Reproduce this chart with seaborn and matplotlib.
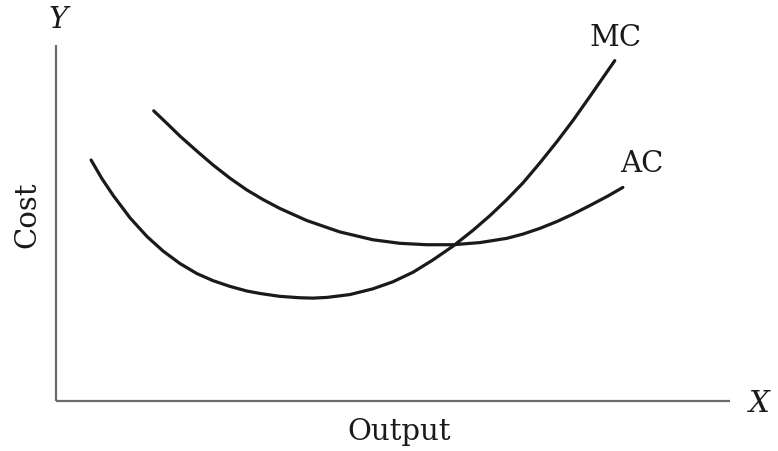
import matplotlib
matplotlib.use("Agg")
import matplotlib.pyplot as plt
import seaborn as sns
import pandas as pd

# Marginal cost curve (output, cost)
mc_output = [0.52, 0.68, 0.85, 1.10, 1.35, 1.59, 1.84, 2.09, 2.33, 2.58, 2.83, 3.03, 3.32, 3.62,
             3.81, 4.02, 4.36, 4.70, 5.00, 5.30, 5.59, 5.89, 6.19, 6.44, 6.69, 6.93, 7.18, 7.43,
             7.67, 7.92, 8.29]
mc_cost   = [6.77, 6.25, 5.77, 5.14, 4.62, 4.21, 3.86, 3.58, 3.38, 3.22, 3.09, 3.02, 2.94, 2.90,
             2.89, 2.91, 2.99, 3.15, 3.35, 3.62, 3.96, 4.35, 4.80, 5.21, 5.66, 6.13, 6.69, 7.28,
             7.88, 8.55, 9.56]

# Average cost curve (output, cost)
ac_output = [1.45, 1.65, 1.84, 2.09, 2.33, 2.58, 2.83, 3.07, 3.32, 3.72, 4.21, 4.70, 5.10, 5.50,
             5.89, 6.29, 6.69, 6.93, 7.18, 7.43, 7.67, 7.92, 8.19, 8.41]
ac_cost   = [8.15, 7.79, 7.44, 7.02, 6.63, 6.26, 5.93, 5.66, 5.41, 5.07, 4.75, 4.53, 4.43, 4.39,
             4.39, 4.45, 4.57, 4.69, 4.85, 5.04, 5.25, 5.49, 5.76, 6.00]

curve_labels = ["MC", "AC"]
x_label = "Output"
y_label = "Cost"

sns.set_theme(style="white")
plt.rcParams["font.family"] = ["DejaVu Serif", "Liberation Serif"]

fig = plt.figure(figsize=(7.78, 4.52), dpi=100)
ax = fig.add_axes([0, 0, 1, 1])

mc_df = pd.DataFrame({"output": mc_output, "cost": mc_cost})
ac_df = pd.DataFrame({"output": ac_output, "cost": ac_cost})
sns.lineplot(data=mc_df, x="output", y="cost", sort=False, ax=ax, color="#1a1a1a",
             linewidth=2.3, solid_joinstyle="round")
sns.lineplot(data=ac_df, x="output", y="cost", sort=False, ax=ax, color="#1a1a1a",
             linewidth=2.3, solid_joinstyle="round")

# axes lines
ax.plot([0, 0], [0, 10], color="#6b6b6b", linewidth=1.6, solid_capstyle="butt")
ax.plot([0, 10], [0, 0], color="#6b6b6b", linewidth=1.6, solid_capstyle="butt")

ax.set_xlim(-0.831, 10.712)
ax.set_ylim(-1.404, 11.292)
ax.axis("off")

fs = 21
ax.text(8.30, 10.22, curve_labels[0], fontsize=fs, ha="center", va="center", color="#1a1a1a")
ax.text(8.69, 6.69, curve_labels[1], fontsize=fs, ha="center", va="center", color="#1a1a1a")
ax.text(5.09, -0.84, x_label, fontsize=fs, ha="center", va="center", color="#1a1a1a")
ax.text(-0.43, 5.25, y_label, fontsize=fs, ha="center", va="center", rotation=90, color="#1a1a1a")
ax.text(0.03, 10.73, "Y", fontsize=fs, ha="center", va="center", style="italic", color="#1a1a1a")
ax.text(10.43, -0.06, "X", fontsize=fs, ha="center", va="center", style="italic", color="#1a1a1a")

fig.savefig("out.png", dpi=100)
